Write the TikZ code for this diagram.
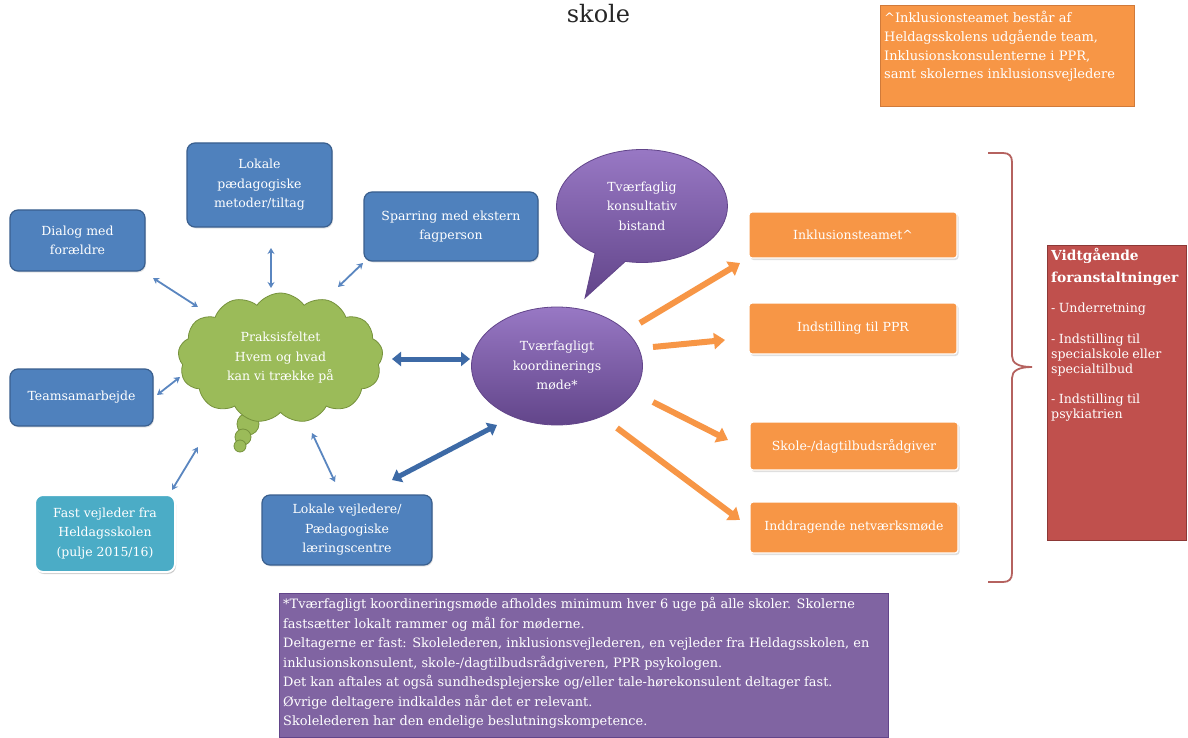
\documentclass[tikz,border=0pt]{standalone}
\usepackage{fontspec}
\setmainfont{DejaVu Serif}
\usetikzlibrary{shapes.symbols,shapes.callouts,shapes.geometric,arrows.meta,shadows}
\setlength{\parindent}{0pt}
\definecolor{blueF}{HTML}{4F81BD}
\definecolor{blueD}{HTML}{3A5F8E}
\definecolor{tealF}{HTML}{4BACC6}
\definecolor{greenF}{HTML}{9BBB59}
\definecolor{greenD}{HTML}{76923C}
\definecolor{purpF}{HTML}{8064A2}
\definecolor{purpL}{HTML}{9878C4}
\definecolor{purpD}{HTML}{62458A}
\definecolor{orangeF}{HTML}{F79646}
\definecolor{orangeD}{HTML}{D07A3A}
\definecolor{redF}{HTML}{C0504D}
\definecolor{redD}{HTML}{8C3836}
\definecolor{arrowB}{HTML}{5A86C0}
\definecolor{arrowBD}{HTML}{3D6AA6}
\definecolor{braceC}{HTML}{B5625F}
\newcommand{\mytxt}{\fontsize{12.5}{19.5}\selectfont}
\newcommand{\smtxt}{\fontsize{13}{18.7}\selectfont}
\tikzset{
 bluebox/.style={rectangle, rounded corners=8pt, fill=blueF, draw=blueD, line width=1.2pt, text=white, align=center, font=\mytxt, inner sep=2pt, drop shadow={opacity=0.2,shadow xshift=1pt,shadow yshift=-1.5pt}},
 orbox/.style={rectangle, rounded corners=3pt, fill=orangeF, draw=white, line width=1.2pt, text=white, align=center, font=\mytxt, minimum width=208pt, drop shadow={opacity=0.25,shadow xshift=1.5pt,shadow yshift=-2pt}},
 thinarr/.style={arrowB, line width=1.8pt, {Stealth[length=6pt,width=7pt]}-{Stealth[length=6pt,width=7pt]}},
 thickarr/.style={arrowBD, line width=5pt, {Triangle[length=9pt,width=14pt]}-{Triangle[length=9pt,width=14pt]}},
 orarr/.style={orangeF, line width=6pt, -{Triangle[length=11pt,width=16pt]}},
 purpshade/.style={top color=purpL, bottom color=purpD, draw=purpD, line width=0.8pt},
}
\begin{document}
\begin{tikzpicture}[x=1pt,y=-1pt]
\useasboundingbox (0,0) rectangle (1188,738);
\fill[white] (0,0) rectangle (1188,738);

% title
\node[font=\fontsize{24}{28}\selectfont, text=black!85] (title) at (598.5,14) {skole};

% top note
\node[rectangle, fill=orangeF, draw=orangeD, line width=1pt, anchor=north west, minimum width=254pt, minimum height=101pt] (inklnote) at (880,5) {};
\node[anchor=north west, text=white, align=left, font=\smtxt, inner sep=0pt] (inkltext) at (884,11) {\^{}Inklusionsteamet består af\\Heldagsskolens udgående team,\\Inklusionskonsulenterne i PPR,\\samt skolernes inklusionsvejledere};

% blue boxes
\node[bluebox, minimum width=135pt, minimum height=61pt] (dialog) at (77.5,240.5) {Dialog med\\forældre};
\node[bluebox, minimum width=145pt, minimum height=84pt] (lokpaed) at (259.5,185) {Lokale\\pædagogiske\\metoder/tiltag};
\node[bluebox, minimum width=174pt, minimum height=69pt] (sparring) at (451,226.5) {Sparring med ekstern\\fagperson};
\node[bluebox, minimum width=143pt, minimum height=57pt] (team) at (81.5,397.5) {Teamsamarbejde};
\node[bluebox, fill=tealF, draw=white, line width=2pt, drop shadow={opacity=0.3,shadow xshift=1pt,shadow yshift=-2pt}, minimum width=140pt, minimum height=77pt] (fast) at (105,533.5) {Fast vejleder fra\\Heldagsskolen\\(pulje 2015/16)};
\node[bluebox, minimum width=170pt, minimum height=70pt] (lokvejl) at (347,530) {Lokale vejledere/\\Pædagogiske\\læringscentre};

% cloud with thought bubbles
\filldraw[fill=greenF, draw=greenD, line width=0.8pt] (248,424) circle[radius=11];
\filldraw[fill=greenF, draw=greenD, line width=0.8pt] (243,437) circle[radius=8];
\filldraw[fill=greenF, draw=greenD, line width=0.8pt] (240,446) circle[radius=6];
\node[cloud, cloud puffs=13, cloud puff arc=110, cloud ignores aspect, minimum width=205pt, minimum height=130pt, fill=greenF, draw=greenD, line width=0.8pt, text=white, align=center, font=\mytxt] (cloud) at (280.5,358) {Praksisfeltet\\Hvem og hvad\\kan vi trække på};

% purple ellipses
\node[ellipse callout, purpshade, minimum width=171pt, minimum height=113pt, callout absolute pointer={(585,298)}, callout pointer arc=22, text=white, align=center, font=\mytxt] (bistand) at (642,206) {Tværfaglig\\konsultativ\\bistand};
\node[ellipse, purpshade, minimum width=171pt, minimum height=118pt, text=white, align=center, font=\mytxt] (mode) at (557,366) {Tværfagligt\\koordinerings\\møde*};

% orange boxes
\node[orbox, minimum height=46pt] (inkl) at (853,235) {Inklusionsteamet\^{}};
\node[orbox, minimum height=51pt] (ppr) at (853,328.5) {Indstilling til PPR};
\node[orbox, minimum height=48pt] (skole) at (854,446) {Skole-/dagtilbudsrådgiver};
\node[orbox, minimum height=51pt] (inddr) at (854,527.5) {Inddragende netværksmøde};

% red box
\node[rectangle, fill=redF, draw=redD, line width=1pt, anchor=north west, minimum width=139pt, minimum height=295pt] (vidt) at (1047,245) {};
\node[anchor=north west, text=white, text width=134pt, inner sep=0pt] (vidttext) at (1051,248) {%
{\fontsize{13.8}{22}\selectfont\bfseries Vidtgående\\foranstaltninger\par}
\vspace{15pt}
{\fontsize{12.6}{15}\selectfont - Underretning\par\vspace{16pt}- Indstilling til\\specialskole eller\\specialtilbud\par\vspace{15pt}- Indstilling til\\psykiatrien\par}};

% brace
\draw[braceC, line width=1.8pt] (988,153) -- (1003,153) .. controls (1009,153) and (1012,156) .. (1012,162) -- (1012,356) .. controls (1012,363) and (1018,367) .. (1032,367) .. controls (1018,367) and (1012,371) .. (1012,378) -- (1012,573) .. controls (1012,579) and (1009,582) .. (1003,582) -- (988,582);

% bottom note
\node[rectangle, fill=purpF, draw=purpD, line width=1pt, anchor=north west, minimum width=609pt, minimum height=144pt] (notebox) at (279,593) {};
\node[anchor=north west, text=white, align=left, font=\fontsize{12.9}{19.5}\selectfont, inner sep=0pt] (notetext) at (283,597) {*Tværfagligt koordineringsmøde afholdes minimum hver 6 uge på alle skoler. Skolerne\\fastsætter lokalt rammer og mål for møderne.\\Deltagerne er fast: Skolelederen, inklusionsvejlederen, en vejleder fra Heldagsskolen, en\\inklusionskonsulent, skole-/dagtilbudsrådgiveren, PPR psykologen.\\Det kan aftales at også sundhedsplejerske og/eller tale-hørekonsulent deltager fast.\\Øvrige deltagere indkaldes når det er relevant.\\Skolelederen har den endelige beslutningskompetence.};

% arrow end points
\coordinate (d1) at (153,278); \coordinate (c1) at (198,307);
\coordinate (d2) at (271,248); \coordinate (c2) at (271,288);
\coordinate (d3) at (363,263); \coordinate (c3) at (338,287);
\coordinate (d4) at (157,395); \coordinate (c4) at (180,377);
\coordinate (d5) at (172,490); \coordinate (c5) at (198,447);
\coordinate (d6) at (335,482); \coordinate (c6) at (312,433);
\coordinate (d7) at (392,359); \coordinate (c7) at (470,359);
\coordinate (d8) at (392,480); \coordinate (c8) at (497,425);
\coordinate (m9) at (640,323); \coordinate (o9) at (740,263);
\coordinate (m10) at (653,347); \coordinate (o10) at (725,340);
\coordinate (m11) at (653,402); \coordinate (o11) at (728,440);
\coordinate (m12) at (617,428); \coordinate (o12) at (740,520);

\draw[thinarr] (d1) -- (c1);
\draw[thinarr] (d2) -- (c2);
\draw[thinarr] (d3) -- (c3);
\draw[thinarr] (d4) -- (c4);
\draw[thinarr] (d5) -- (c5);
\draw[thinarr] (d6) -- (c6);
\draw[thickarr] (d7) -- (c7);
\draw[thickarr] (d8) -- (c8);
\draw[orarr] (m9) -- (o9);
\draw[orarr] (m10) -- (o10);
\draw[orarr] (m11) -- (o11);
\draw[orarr] (m12) -- (o12);
\end{tikzpicture}
\end{document}
